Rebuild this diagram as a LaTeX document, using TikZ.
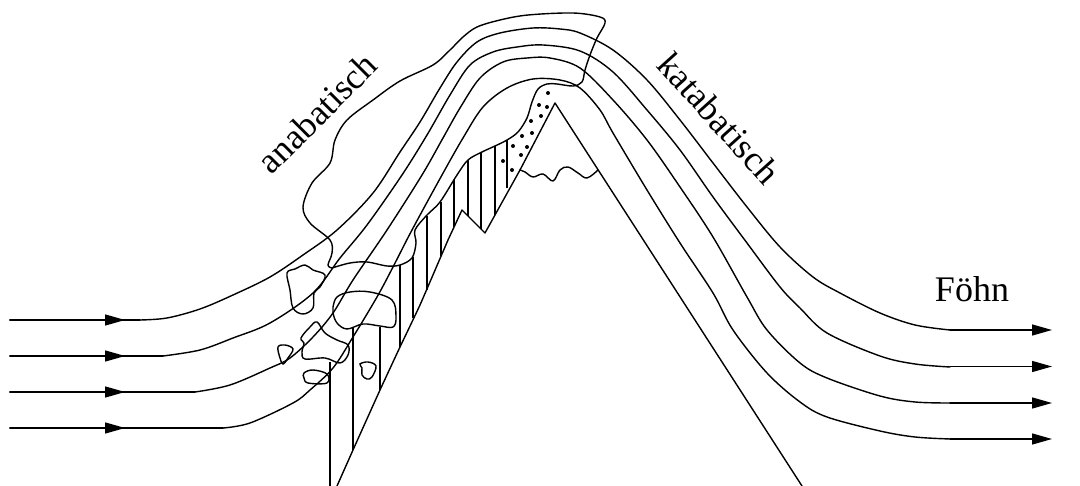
\documentclass[tikz,border=0pt]{standalone}
\usepackage{fontspec}
\setmainfont{Liberation Serif}
\usetikzlibrary{arrows.meta}
\tikzset{
  ln/.style={line width=1.4pt,line join=round,line cap=round},
  hatch/.style={line width=1.2pt},
  cloud/.style={line width=1.4pt,smooth cycle,tension=0.6},
  flow/.style={ln,-{Triangle[length=20pt,width=11pt]}},
  lab/.style={font=\fontsize{36}{40}\selectfont,inner sep=0pt},
  dot/.style={circle,fill=black,minimum size=4pt,inner sep=0pt}
}
\begin{document}
\begin{tikzpicture}[x=1pt,y=-1pt]
\useasboundingbox (0,0) rectangle (1080,486);
\clip (0,0) rectangle (1080,486);
% incoming arrows with straight run-out
\foreach \y/\e in {320/140,356/163,392/195,428/223} {
  \draw[ln] (10,\y) -- (\e,\y);
  \draw[flow] (10,\y) -- (125,\y);
}
% outgoing arrows
\foreach \y in {330,366.5,403,439} \draw[flow] (950,\y) -- (1052,\y);
% streamlines
\draw[ln] plot[smooth,tension=0.55] coordinates {(140,320) (167,318) (200,309) (233,295) (270,277) (303,255) (337,230) (373,193) (400,152) (420,122) (440,88) (457,62) (477,42) (500,33) (533,28) (560,29) (580,33) (613,50) (647,80) (680,120) (713,163) (747,207) (780,247) (813,277) (840,293) (880,313) (915,325) (950,330)};
\draw[ln] plot[smooth,tension=0.55] coordinates {(163,356) (200,350) (233,338) (270,323) (313,293) (340,258) (367,225) (402,175) (427,135) (450,95) (470,65) (493,52) (517,47) (543,45) (580,51) (613,72) (647,110) (680,150) (713,197) (747,243) (780,287) (800,308) (827,333) (880,356) (915,364) (950,367)};
\draw[ln] plot[smooth,tension=0.55] coordinates {(195,392) (230,385) (270,368) (290,358) (313,337) (333,313) (353,280) (387,230) (422,175) (443,138) (460,108) (480,78) (503,62) (527,58) (550,58) (580,68) (613,100) (647,140) (680,187) (713,237) (747,297) (767,330) (800,363) (827,378) (880,396) (915,402) (950,403)};
\draw[ln] plot[smooth,tension=0.55] coordinates {(223,428) (250,423) (293,403) (310,390) (333,368) (353,337) (377,297) (393,267) (412,230) (442,175) (463,138) (483,107) (507,88) (533,79) (560,80) (580,88) (600,110) (613,133) (647,190) (680,243) (713,293) (733,330) (767,373) (800,402) (827,417) (880,431) (915,437) (950,439)};
% mountain
\draw[ln] plot[smooth,tension=0.15] coordinates {(337,486) (353,450) (380,390) (400,347) (420,305) (448,240)} -- (462,210) -- (485,233) -- (520,170) -- (555,103) -- (802,486);
% snow line
\draw[ln] plot[smooth,tension=0.6] coordinates {(520,170) (525,172) (533,177) (543,174) (553,181) (560,170) (568,167) (578,173) (587,178) (598,170)};
% hatching
\foreach \x/\a/\b in {330/362/486,353/327/450,380/327/390,400/265/347,413/257/318,427/216/290,441/202/256,454/180/227,468/160/216,481/152/229,495/146/215,507/140/188}
  \draw[hatch] (\x,\a) -- (\x,\b);
% big cloud outline
\draw[ln] plot[smooth,tension=0.55] coordinates {(332,268) (350,263) (367,262) (387,266) (400,265) (412,258) (416,243) (415,230) (427,215) (440,202) (457,175) (468,160) (482,152) (495,146) (507,140) (518,132) (527,118) (532,102) (538,89) (547,84) (557,84) (573,86) (582,82) (585,70) (590,55) (597,38) (605,23) (600,17) (573,13) (528,15) (500,20) (477,27) (463,37) (450,50) (433,65) (400,81) (373,100) (347,120) (335,140) (330,163) (312,183) (303,207) (310,223) (330,240) (332,253) (328,265) (332,268)};
% small clouds
\draw[cloud] plot coordinates {(287,273) (295,269) (305,265) (313,270) (325,275) (320,287) (314,293) (313,308) (303,314) (293,308) (290,290)};
\draw[cloud] plot coordinates {(333,307) (337,297) (350,292) (370,292) (392,300) (396,317) (393,327) (380,326) (363,324) (347,329) (337,323) (333,313)};
\draw[cloud] plot coordinates {(301,338) (310,327) (317,322) (325,333) (337,340) (348,345) (348,355) (340,363) (325,358) (305,359) (302,352) (304,343)};
\draw[cloud] plot coordinates {(278,347) (285,345) (293,349) (288,358) (283,364) (280,358)};
\draw[cloud] plot coordinates {(304,373) (313,370) (327,374) (327,383) (308,383) (304,378)};
\draw[cloud] plot coordinates {(360,364) (368,362) (376,366) (372,377) (367,379) (362,375) (362,368)};
% dots
\foreach \n/\x/\y in {d1/548/93,d2/539/105,d3/547/107,d4/531/121,d5/541/116,d6/522/136,d7/532/133,d8/513/146,d9/527/147,d10/521/155,d11/503/161,d12/512/170}
  \node[dot] (\n) at (\x,\y) {};
% labels
\node[lab,rotate=45] (ana) at (317,113) {anabatisch};
\node[lab,rotate=-48] (kata) at (719,118) {katabatisch};
\node[lab] (foehn) at (972,289) {Föhn};
\end{tikzpicture}
\end{document}
